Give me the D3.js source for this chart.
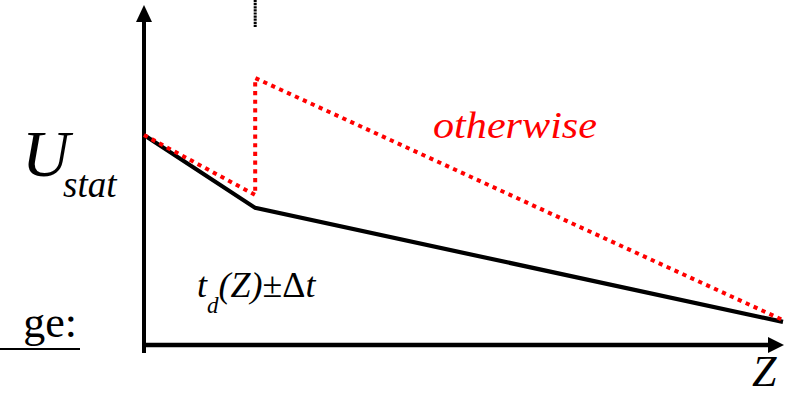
<!DOCTYPE html>
<html><head><meta charset="utf-8"><script src="https://cdn.jsdelivr.net/npm/d3@7"></script></head>
<body style="margin:0">
<script>
// Break position along Z where the detection time window changes
const zBreak = 0.174;

// Statistical uncertainty vs. Z: normal case (solid) and the other case (dotted)
const normalZ = [0, zBreak, 1];
const normalU = [0.70, 0.457, 0.077];
const otherZ  = [0, zBreak, zBreak, 1];
const otherU  = [0.70, 0.50, 0.89, 0.083];

// Axis / annotation labels
const yLabel = "U";
const ySub = "stat";
const xLabel = "Z";
const otherLabel = "otherwise";
const leftLabel = "ge:";

const W = 791, H = 397;
const SERIF = "Liberation Serif";
const svg = d3.select("body").append("svg").attr("width", W).attr("height", H)
  .style("display", "block");

const x = d3.scaleLinear().domain([0, 1]).range([144, 783]);
const y = d3.scaleLinear().domain([0, 1]).range([345, 45]);

// Axes drawn as arrows
const x0 = x(0), y0 = y(0);
svg.append("line").attr("x1", x0).attr("x2", x0).attr("y1", y0 + 8).attr("y2", 20)
  .attr("stroke", "#000").attr("stroke-width", 4);
svg.append("path").attr("d", `M${x0 - 8},22 L${x0},5 L${x0 + 8},22 Z`).attr("fill", "#000");
svg.append("line").attr("x1", x0 - 2).attr("x2", 770).attr("y1", y0).attr("y2", y0)
  .attr("stroke", "#000").attr("stroke-width", 4.5);
svg.append("path").attr("d", `M768,${y0 - 8} L${x(1) + 1},${y0} L768,${y0 + 8} Z`).attr("fill", "#000");

// Short dotted marker above the break
svg.append("line").attr("x1", x(zBreak)).attr("x2", x(zBreak)).attr("y1", 0).attr("y2", 27)
  .attr("stroke", "#000").attr("stroke-width", 3).attr("stroke-dasharray", "2.2 0.9");

const line = d3.line().x(d => x(d[0])).y(d => y(d[1]));

// Solid curve
svg.append("path").datum(d3.zip(normalZ, normalU)).attr("d", line)
  .attr("fill", "none").attr("stroke", "#000").attr("stroke-width", 4.2)
  .attr("stroke-linejoin", "miter");

// Red dotted curve
svg.append("path").datum(d3.zip(otherZ, otherU)).attr("d", line)
  .attr("fill", "none").attr("stroke", "#ff0000").attr("stroke-width", 4)
  .attr("stroke-dasharray", "4.2 4.5");

// Text labels in a Times-style serif
const labels = [
  { text: yLabel, x: 22, y: 176, size: 66, italic: true, anchor: "start", fill: "#000" },
  { text: ySub, x: 63, y: 197, size: 37, italic: true, anchor: "start", fill: "#000" },
  { text: otherLabel, x: 433, y: 138, size: 37, italic: true, anchor: "start", fill: "#ff0000", len: 164 },
  { text: xLabel, x: 752, y: 386, size: 44, italic: true, anchor: "start", fill: "#000" },
  { text: leftLabel, x: 77, y: 337, size: 44, italic: false, anchor: "end", fill: "#000" }
];
const lab = svg.selectAll("text.lab").data(labels).join("text")
  .attr("class", "lab")
  .attr("x", d => d.x).attr("y", d => d.y).attr("font-size", d => d.size)
  .attr("text-anchor", d => d.anchor).attr("fill", d => d.fill)
  .attr("font-family", SERIF)
  .attr("font-style", d => d.italic ? "italic" : "normal")
  .text(d => d.text);
lab.filter(d => d.len).attr("textLength", d => d.len).attr("lengthAdjust", "spacingAndGlyphs");

// Timing window annotation t_d(Z) ± Δt
const parts = [
  { s: "t", italic: true, size: 36, dy: 0 },
  { s: "d", italic: true, size: 23, dy: 16 },
  { s: "(Z)", italic: true, size: 36, dy: -16 },
  { s: "±Δ", italic: false, size: 36, dy: 0 },
  { s: "t", italic: true, size: 36, dy: 0 }
];
svg.append("text").attr("x", 197).attr("y", 297)
  .attr("font-family", SERIF)
  .selectAll("tspan").data(parts).join("tspan")
  .attr("font-family", SERIF)
  .attr("font-size", d => d.size).attr("dy", d => d.dy)
  .attr("font-style", d => d.italic ? "italic" : "normal")
  .text(d => d.s);

svg.append("line").attr("x1", 0).attr("x2", 80).attr("y1", 349).attr("y2", 349)
  .attr("stroke", "#000").attr("stroke-width", 2);
</script>
</body>
</html>
